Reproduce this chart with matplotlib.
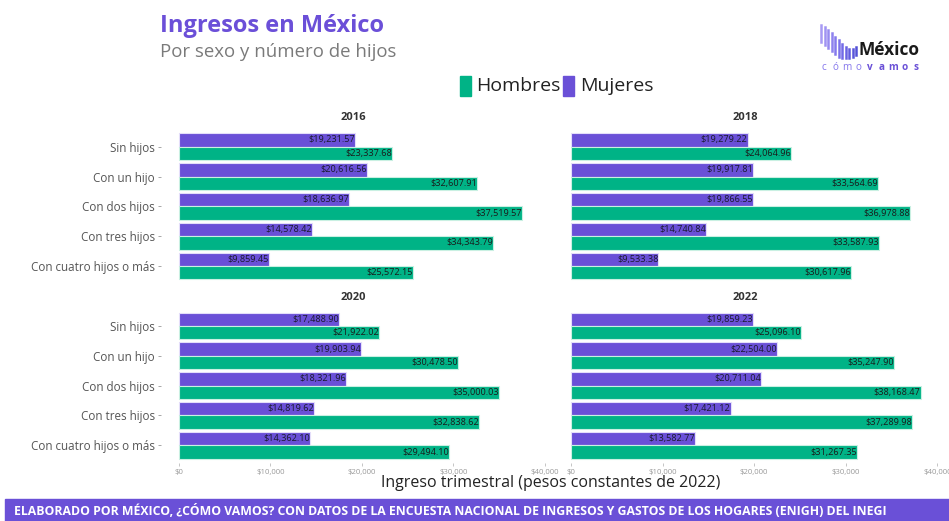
import matplotlib.pyplot as plt
from matplotlib.patches import Rectangle
from matplotlib.lines import Line2D
from matplotlib.ticker import FuncFormatter

W, H = 949, 521

# ---------------------------------------------------------------------------
# Data (pesos constantes de 2022)
# ---------------------------------------------------------------------------
categorias = ["Sin hijos", "Con un hijo", "Con dos hijos", "Con tres hijos",
              "Con cuatro hijos o más"]
anios = ["2016", "2018", "2020", "2022"]

mujeres_2016 = [19231.57, 20616.56, 18636.97, 14578.42, 9859.45]
hombres_2016 = [23337.68, 32607.91, 37519.57, 34343.79, 25572.15]
mujeres_2018 = [19279.22, 19917.81, 19866.55, 14740.84, 9533.38]
hombres_2018 = [24064.96, 33564.69, 36978.88, 33587.93, 30617.96]
mujeres_2020 = [17488.90, 19903.94, 18321.96, 14819.62, 14362.10]
hombres_2020 = [21922.02, 30478.50, 35000.03, 32838.62, 29494.10]
mujeres_2022 = [19859.23, 22504.00, 20711.04, 17421.12, 13582.77]
hombres_2022 = [25096.10, 35247.90, 38168.47, 37289.98, 31267.35]

mujeres = [mujeres_2016, mujeres_2018, mujeres_2020, mujeres_2022]
hombres = [hombres_2016, hombres_2018, hombres_2020, hombres_2022]

x_ticks = [0, 10000, 20000, 30000, 40000]

COLORS = {
    "hombres": "#00B386",
    "mujeres": "#6A50D7",
    "title": "#6B4FD8",
    "subtitle": "#7A7A7A",
    "text": "#222222",
    "axis": "#555555",
    "tick": "#9A9A9A",
}

plt.rcParams.update({"font.family": ["Open Sans", "DejaVu Sans"]})

fig = plt.figure(figsize=(W / 100, H / 100), dpi=100)


def px_box(x0, y0, x1, y1):
    # pixel box (top-left origin) -> figure fraction rect
    return [x0 / W, 1 - y1 / H, (x1 - x0) / W, (y1 - y0) / H]


# shared x scale with ggplot-like 5% expansion
xmax = max(max(h) for h in hombres)
xlim = (-0.05 * xmax, xmax * 1.05)

panels = [
    (161.2, 128.8, 545.7, 283.9),
    (553.5, 128.8, 938.0, 283.9),
    (161.2, 308.1, 545.7, 463.2),
    (553.5, 308.1, 938.0, 463.2),
]

ypos = list(range(len(categorias)))
bar_h = 0.45

for k, (box, anio) in enumerate(zip(panels, anios)):
    ax = fig.add_axes(px_box(*box))
    ax.set_xlim(*xlim)
    ax.set_ylim(len(categorias) - 0.4, -0.6)
    for s in ax.spines.values():
        s.set_visible(False)

    y_m = [y - bar_h / 2 for y in ypos]
    y_h = [y + bar_h / 2 for y in ypos]
    ax.barh(y_m, mujeres[k], height=bar_h, color=COLORS["mujeres"],
            edgecolor="#E4DEFA", linewidth=0.8)
    ax.barh(y_h, hombres[k], height=bar_h, color=COLORS["hombres"],
            edgecolor="#C9F0E2", linewidth=0.8)

    for y, v in zip(y_m, mujeres[k]):
        ax.text(v, y, f"${v:,.2f}", ha="right", va="center",
                fontsize=6.6, color="#1A1A2E")
    for y, v in zip(y_h, hombres[k]):
        ax.text(v, y, f"${v:,.2f}", ha="right", va="center",
                fontsize=6.6, color="#1A1A1A")

    ax.set_title(anio, fontsize=8, fontweight="bold", color="#333333", pad=6)

    ax.set_yticks(ypos)
    if k % 2 == 0:
        ax.set_yticklabels(categorias, fontsize=8.4, color=COLORS["axis"])
        ax.tick_params(axis="y", length=2.5, width=0.6, color="#999999", pad=2)
    else:
        ax.set_yticklabels([])
        ax.tick_params(axis="y", length=0)

    ax.set_xticks(x_ticks)
    if k >= 2:
        ax.xaxis.set_major_formatter(FuncFormatter(lambda v, p: f"${v:,.0f}"))
        ax.tick_params(axis="x", labelsize=5.6, labelcolor=COLORS["tick"],
                       length=2, width=0.6, color="#BBBBBB", pad=2)
    else:
        ax.tick_params(axis="x", length=0, labelbottom=False)

# x axis title
fig.text(551 / W, 1 - 483 / H, "Ingreso trimestral (pesos constantes de 2022)",
         ha="center", va="center", fontsize=11.5, color=COLORS["text"])

# titles
fig.text(160 / W, 1 - 26 / H, "Ingresos en México", ha="left", va="center",
         fontsize=17, fontweight="bold", color=COLORS["title"])
fig.text(160 / W, 1 - 52 / H, "Por sexo y número de hijos", ha="left",
         va="center", fontsize=13.4, color=COLORS["subtitle"])

# legend
fig.patches.append(Rectangle((460 / W, 1 - 96 / H), 11 / W, 20 / H,
                             transform=fig.transFigure,
                             color=COLORS["hombres"]))
fig.text(476 / W, 1 - 86 / H, "Hombres", ha="left", va="center",
         fontsize=14, color=COLORS["text"])
fig.patches.append(Rectangle((563 / W, 1 - 96 / H), 11 / W, 20 / H,
                             transform=fig.transFigure,
                             color=COLORS["mujeres"]))
fig.text(580 / W, 1 - 86 / H, "Mujeres", ha="left", va="center",
         fontsize=14, color=COLORS["text"])

# logo
logo_x = [821.0, 824.5, 828.0, 831.5, 835.0, 838.5, 842.0, 845.5, 849.0,
          852.5, 856.0]
logo_top = [25, 27, 30, 33, 37, 40, 44, 47, 49, 49, 47]
logo_bot = [42, 45, 48, 51, 54, 57, 58, 58, 58, 57, 55]
logo_col = ["#A89AF4", "#A093F2", "#978AF0", "#8E82EE", "#857AEC", "#7C72EA",
            "#736AE6", "#6A63E2", "#625CDE", "#5A56DA", "#5350D6"]
for x, t, b, c in zip(logo_x, logo_top, logo_bot, logo_col):
    fig.lines.append(Line2D([x / W, x / W], [1 - t / H, 1 - b / H],
                            transform=fig.transFigure, color=c, lw=1.8))
fig.text(858 / W, 1 - 50 / H, "México", ha="left", va="center",
         fontsize=12.5, fontweight="bold", color="#1A1A1A")
for i, ch in enumerate("cómovamos"):
    bold = i >= 4
    fig.text((824 + i * 11.5) / W, 1 - 67 / H, ch, ha="center", va="center",
             fontsize=7.2, fontweight="bold" if bold else "normal",
             color="#6A50D7" if bold else "#8677EC")

# footer band
fig.patches.append(Rectangle((5 / W, 0), (W - 5) / W, 22 / H,
                             transform=fig.transFigure,
                             color=COLORS["mujeres"]))
fig.text(14 / W, 1 - 511 / H,
         "ELABORADO POR MÉXICO, ¿CÓMO VAMOS? CON DATOS DE LA ENCUESTA NACIONAL "
         "DE INGRESOS Y GASTOS DE LOS HOGARES (ENIGH) DEL INEGI",
         ha="left", va="center", fontsize=8.8, fontweight="bold",
         color="white")

fig.savefig("out.png", dpi=100)
